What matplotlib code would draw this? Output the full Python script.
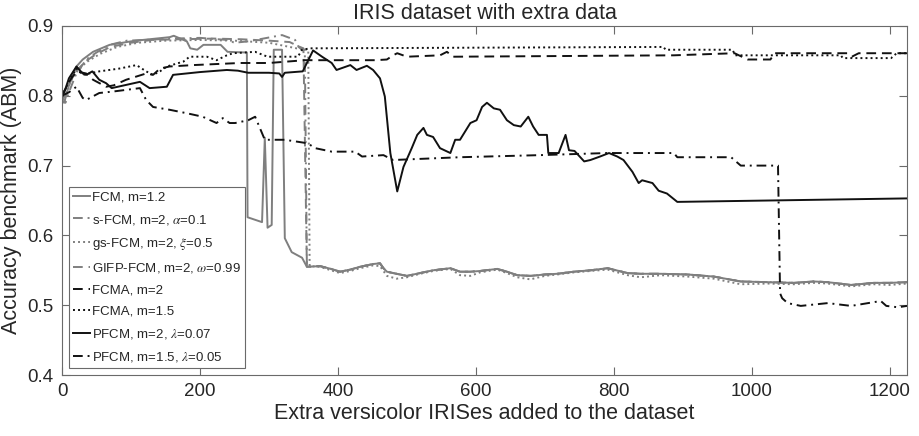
import matplotlib
matplotlib.use("Agg")
import matplotlib.pyplot as plt
import numpy as np

plt.rcParams['font.family'] = ['Liberation Sans', 'DejaVu Sans']
plt.rcParams['mathtext.fontset'] = 'stix'

# ---------------- data ----------------
# shared low tail of the gray curves after the collapse
tail_x = [355, 374, 390, 403, 418, 432, 451, 461, 466, 471, 485, 500, 519, 538, 563, 577,
          592, 606, 631, 645, 660, 679, 700, 718, 742, 766, 791, 820, 839, 868, 907,
          945, 984, 1023, 1061, 1090, 1110, 1144, 1177, 1200, 1225]
tail_y = [0.555, 0.556, 0.552, 0.548, 0.551, 0.555, 0.559, 0.560, 0.553, 0.548, 0.545, 0.542,
          0.546, 0.550, 0.553, 0.548, 0.548, 0.549, 0.552, 0.548, 0.543, 0.542, 0.544, 0.545,
          0.548, 0.550, 0.553, 0.546, 0.545, 0.545, 0.544, 0.541, 0.534, 0.533, 0.532,
          0.534, 0.533, 0.529, 0.532, 0.532, 0.533]

gs_tail_x = [359, 374, 390, 403, 418, 432, 451, 461, 466, 471, 485, 500, 519, 538, 563, 577,
             592, 606, 631, 645, 660, 679, 700, 718, 742, 766, 791, 820, 839, 868, 907,
             945, 984, 1023, 1061, 1090, 1110, 1144, 1177, 1200, 1225]
gs_tail_y = [0.556, 0.555, 0.550, 0.546, 0.549, 0.553, 0.557, 0.556, 0.549, 0.542, 0.538, 0.540,
             0.545, 0.549, 0.552, 0.543, 0.542, 0.547, 0.551, 0.546, 0.540, 0.537, 0.542, 0.544,
             0.547, 0.549, 0.551, 0.543, 0.540, 0.543, 0.541, 0.538, 0.530, 0.531, 0.530,
             0.532, 0.531, 0.527, 0.530, 0.529, 0.531]

fcm_x = [0, 3, 6, 10, 15, 21, 30, 45, 69, 100, 117, 156, 162, 181, 186, 196, 205, 230,
         240, 268, 269, 290, 294, 298, 304, 307, 319, 323, 333, 348]
fcm_y = [0.793, 0.790, 0.800, 0.815, 0.830, 0.842, 0.852, 0.863, 0.873, 0.878, 0.880,
         0.884, 0.886, 0.878, 0.868, 0.866, 0.873, 0.873, 0.863, 0.862, 0.626, 0.619,
         0.740, 0.611, 0.615, 0.866, 0.866, 0.596, 0.576, 0.568]

sfcm_x = [0, 5, 10, 20, 35, 50, 69, 94, 120, 160, 200, 240, 250, 270, 319, 338, 343, 348, 352]
sfcm_y = [0.800, 0.790, 0.805, 0.830, 0.852, 0.862, 0.873, 0.879, 0.880, 0.882, 0.883,
          0.880, 0.876, 0.878, 0.887, 0.880, 0.870, 0.866, 0.866]

gsfcm_x = [0, 5, 12, 20, 35, 55, 80, 110, 150, 200, 250, 300, 330, 340, 357]
gsfcm_y = [0.796, 0.805, 0.820, 0.833, 0.848, 0.860, 0.870, 0.876, 0.879, 0.880, 0.879,
           0.876, 0.870, 0.868, 0.866]

gifp_x = [0, 5, 12, 20, 35, 50, 70, 100, 130, 170, 220, 260, 300, 330, 345, 350]
gifp_y = [0.795, 0.800, 0.820, 0.835, 0.850, 0.860, 0.870, 0.876, 0.880, 0.881, 0.882,
          0.881, 0.879, 0.877, 0.870, 0.868]

fcma2_x = [0, 10, 21, 35, 45, 64, 75, 93, 122, 132, 142, 156, 190, 258, 300, 352, 454,
           471, 480, 486, 500, 548, 558, 567, 887, 975, 994, 1027, 1033, 1139, 1145, 1155, 1225]
fcma2_y = [0.800, 0.820, 0.835, 0.832, 0.823, 0.813, 0.815, 0.823, 0.832, 0.830, 0.839,
           0.842, 0.844, 0.847, 0.847, 0.851, 0.851, 0.852, 0.858, 0.861, 0.856, 0.858,
           0.863, 0.856, 0.858, 0.861, 0.852, 0.852, 0.861, 0.861, 0.856, 0.861, 0.861]

fcma15_x = [0, 10, 21, 30, 54, 83, 108, 122, 132, 142, 152, 176, 185, 210, 224, 239, 248,
            280, 298, 342, 348, 360, 872, 875, 972, 976, 1129, 1132, 1202, 1210, 1225]
fcma15_y = [0.800, 0.820, 0.839, 0.830, 0.835, 0.839, 0.844, 0.835, 0.830, 0.835, 0.842,
            0.849, 0.856, 0.856, 0.851, 0.858, 0.861, 0.863, 0.856, 0.856, 0.866, 0.868,
            0.870, 0.866, 0.866, 0.858, 0.858, 0.854, 0.854, 0.861, 0.861]

pfcm2_x = [0, 5, 10, 21, 30, 35, 44, 54, 64, 72, 113, 127, 152, 161, 200, 239, 255, 270,
           300, 315, 319, 323, 349, 364, 377, 391, 398, 418, 427, 442, 451, 461, 468, 476,
           486, 495, 507, 515, 524, 529, 538, 548, 563, 570, 577, 592, 601, 609, 616, 626,
           635, 645, 655, 665, 676, 683, 691, 703, 705, 720, 730, 735, 743, 757, 766, 780,
           793, 805, 814, 827, 836, 841, 856, 865, 877, 892, 1225]
pfcm2_y = [0.798, 0.810, 0.825, 0.842, 0.832, 0.830, 0.835, 0.823, 0.818, 0.811, 0.820,
           0.811, 0.813, 0.830, 0.834, 0.837, 0.836, 0.833, 0.833, 0.832, 0.827, 0.833,
           0.835, 0.865, 0.856, 0.847, 0.837, 0.844, 0.837, 0.843, 0.837, 0.825, 0.799,
           0.718, 0.663, 0.698, 0.725, 0.744, 0.754, 0.744, 0.741, 0.725, 0.718, 0.737,
           0.737, 0.761, 0.765, 0.784, 0.790, 0.782, 0.780, 0.765, 0.758, 0.756, 0.770,
           0.756, 0.744, 0.744, 0.718, 0.718, 0.744, 0.722, 0.721, 0.706, 0.708, 0.713,
           0.718, 0.713, 0.708, 0.691, 0.675, 0.679, 0.675, 0.664, 0.660, 0.648, 0.653]

pfcm15_x = [0, 10, 21, 30, 35, 54, 73, 113, 122, 132, 156, 181, 204, 224, 233, 243, 251,
            270, 280, 294, 323, 356, 367, 391, 425, 435, 466, 480, 577, 693, 790, 887, 892,
            970, 984, 1038, 1041, 1044, 1052, 1071, 1110, 1144, 1187, 1195, 1212, 1225]
pfcm15_y = [0.800, 0.805, 0.813, 0.797, 0.794, 0.804, 0.806, 0.811, 0.794, 0.784, 0.780,
            0.775, 0.770, 0.761, 0.768, 0.761, 0.761, 0.765, 0.770, 0.737, 0.737, 0.732,
            0.725, 0.720, 0.720, 0.713, 0.715, 0.708, 0.712, 0.715, 0.718, 0.718, 0.712,
            0.712, 0.700, 0.700, 0.517, 0.510, 0.503, 0.499, 0.503, 0.499, 0.506, 0.499,
            0.497, 0.499]

labels = [r'FCM, m=1.2', r's-FCM, m=2, $\alpha$=0.1', r'gs-FCM, m=2, $\xi$=0.5',
          r'GIFP-FCM, m=2, $\omega$=0.99', r'FCMA, m=2', r'FCMA, m=1.5',
          r'PFCM, m=2, $\lambda$=0.07', r'PFCM, m=1.5, $\lambda$=0.05']

# ---------------- styles ----------------
GRAY = '#7f7f7f'
BLACK = '#111111'
DASH = (0, (5, 3))
DOT = (0, (1, 1.6))
DASHDOT = (0, (5, 2.5, 1, 2.5))

series = [
    (fcm_x + tail_x, fcm_y + tail_y, GRAY, '-'),
    (sfcm_x + tail_x, sfcm_y + tail_y, GRAY, DASHDOT),
    (gsfcm_x + gs_tail_x, gsfcm_y + gs_tail_y, GRAY, DOT),
    (gifp_x + tail_x, gifp_y + tail_y, GRAY, DASH),
    (fcma2_x, fcma2_y, BLACK, DASH),
    (fcma15_x, fcma15_y, BLACK, DOT),
    (pfcm2_x, pfcm2_y, BLACK, '-'),
    (pfcm15_x, pfcm15_y, BLACK, DASHDOT),
]

fig = plt.figure(figsize=(9.19, 4.36), dpi=100)
ax = fig.add_axes([62 / 919, 61 / 436, 845 / 919, 349 / 436])

for (xs, ys, c, ls), lab in zip(series, labels):
    ax.plot(xs, ys, color=c, linestyle=ls, linewidth=1.4, label=lab)

ax.set_xlim(0, 1225)
ax.set_ylim(0.4, 0.9)
ax.set_xticks([0, 200, 400, 600, 800, 1000, 1200])
ax.set_yticks([0.4, 0.5, 0.6, 0.7, 0.8, 0.9])
ax.set_yticklabels(['0.4', '0.5', '0.6', '0.7', '0.8', '0.9'])

AXC = '#6a6a6a'
TXT = '#262626'
for s in ax.spines.values():
    s.set_color(AXC)
    s.set_linewidth(0.8)
ax.tick_params(direction='in', length=6, width=0.8, color=AXC, labelcolor=TXT,
               labelsize=13.5, top=True, right=True, pad=6)

ax.set_xlabel('Extra versicolor IRISes added to the dataset', fontsize=15.5, color=TXT, labelpad=2)
ax.set_ylabel('Accuracy benchmark (ABM)', fontsize=15.5, color=TXT, labelpad=4)
ax.set_title('IRIS dataset with extra data', fontsize=15.5, color=TXT, pad=5)

leg = ax.legend(loc='lower left', fontsize=9.5, handlelength=1.35, handletextpad=0.15,
                labelspacing=0.7, borderpad=0.3, borderaxespad=0.5, fancybox=False,
                framealpha=1, edgecolor=AXC)
leg.get_frame().set_linewidth(0.8)
for t in leg.get_texts():
    t.set_color(TXT)

fig.savefig('out.png', dpi=100)
